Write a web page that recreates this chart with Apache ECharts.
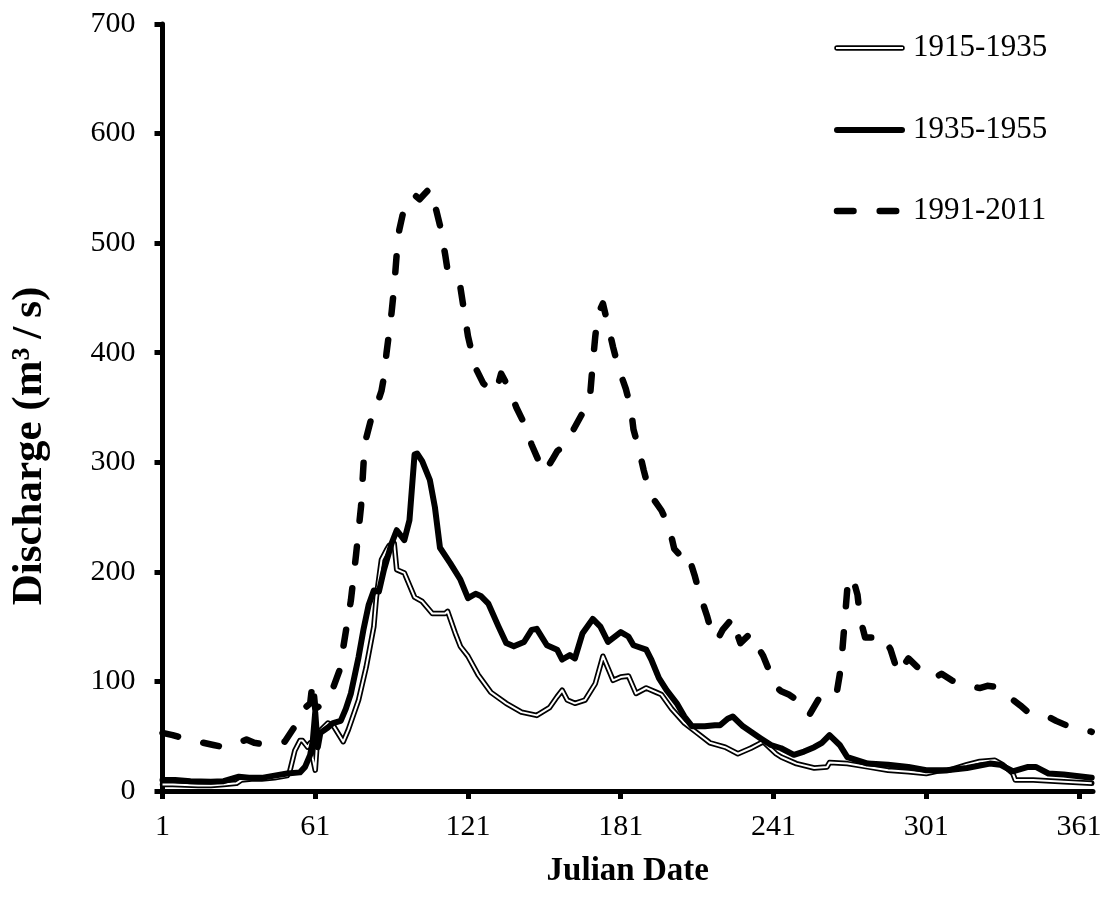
<!DOCTYPE html>
<html>
<head>
<meta charset="utf-8">
<script src="https://cdn.jsdelivr.net/npm/echarts@6/dist/echarts.min.js"></script>
<style>
  html, body { margin: 0; padding: 0; background: #fff; }
  #chart { width: 1110px; height: 898px; }
</style>
</head>
<body>
<div id="chart"></div>
<script>
// Mean daily discharge by Julian date for three 20-year periods (m³/s)
const days1915 = [1,5,10,15,20,25,30,32,36,40,45,50,51,53,55,56,58,59,60,61,62,66,68,72,74,78,81,84,85,87,89,90,92,93,96,100,103,107,112,113,116,118,121,125,130,136,142,148,153,156,158,160,163,167,171,174,178,181,184,187,191,195,197,201,206,211,216,222,227,232,237,242,244,250,257,262,263,270,278,286,294,301,305,310,317,322,328,331,335,336,343,355,366];
const flow1915 = [6,6,5.5,5,5,6,7,10,11,11,12,14,18,37,46,46,40,44,30,19,53,62,60,45,56,83,113,150,177,211,220,224,226,202,199,177,173,162,162,164,144,132,123,106,90,80,72,69,76,86,92,83,80,83,98,123,101,104,105,89,94,90,88,75,62,53,44,40,34,39,45,34,31,25,21,22,26,25,22,19,17.6,16,18,19,24,27,28,24,16,10,10,8.5,7];

const days1935 = [1,6,12,20,25,28,31,35,40,45,50,55,57,59,60,61,62,63,66,68,71,73,75,78,80,82,84,86,88,91,93,96,98,100,101,103,106,108,110,114,118,121,124,126,129,133,136,139,143,146,148,152,156,158,161,163,166,170,173,176,181,184,186,191,193,196,199,203,206,209,214,218,220,223,225,229,236,240,244,249,253,257,260,263,267,270,274,278,286,294,301,309,317,326,330,335,341,344,349,355,366];
const flow1935 = [10,10,9,8.5,9,11,13,12,12,14,16,17,22,33,45,72,40,53,58,62,64,75,89,122,148,170,183,182,202,226,238,229,247,307,308,301,284,259,222,208,193,176,180,178,171,150,135,132,136,147,148,133,129,120,124,121,144,157,150,136,145,141,133,129,120,103,92,80,68,59,59,60,60,66,68,59,48,42,39,33,36,40,44,51,42,31,28,25,24,22,19,19,21,25,24,18,22,22,16,15,12];

const days1991 = [1,5,8,12,17,21,25,29,32,34,37,40,44,49,51,53,55,57,59,60,61,63,65,68,71,72,75,77,79,80,81,83,86,87,88,89,90,91,92,93,94,96,98,100,102,104,106,108,110,112,113,116,118,120,121,122,124,127,130,132,134,137,140,144,146,149,151,154,156,159,162,166,169,170,171,172,174,176,178,180,183,185,186,188,190,192,194,197,200,202,204,207,210,212,215,217,219,221,225,226,228,232,234,237,240,242,244,247,249,252,255,259,262,264,266,267,268,270,272,274,275,277,280,284,287,290,294,298,301,304,307,311,315,322,325,329,334,338,341,348,352,356,363,366];
const flow1991 = [53,51,49,46,44,42,40,42,45,47,44,43,43,45,52,59,70,76,80,100,75,78,85,94,113,131,174,215,260,300,322,340,358,365,378,400,418,437,460,490,512,533,540,544,540,545,550,535,516,490,475,468,460,430,415,405,386,372,366,364,381,368,350,331,316,300,291,302,310,316,328,345,362,390,415,435,445,425,405,387,367,349,330,313,293,275,266,256,241,221,216,219,197,180,159,142,138,147,158,148,135,144,135,123,106,95,91,88,85,76,69,85,93,95,92,106,127,185,196,179,158,140,140,142,129,107,121,112,107,103,107,101,97,94,96,95,85,78,72,69,64,60,56,54];

const periods = ['1915-1935', '1935-1955', '1991-2011'];
const dayTicks = [1, 61, 121, 181, 241, 301, 361];

const pair = (xs, ys) => xs.map((d, i) => [d, ys[i]]);
const serif = '"Liberation Serif", "Times New Roman", serif';

const chart = echarts.init(document.getElementById('chart'), null, { renderer: 'canvas' });

const lineBase = {
  type: 'line',
  showSymbol: false,
  symbol: 'none',
  smooth: false,
  animation: false,
  silent: true
};

const legendText = (label, y) => ({
  type: 'text', x: 913, y: y, silent: true,
  style: {
    text: label, font: '31px ' + serif, fill: '#000',
    align: 'left', verticalAlign: 'middle', textAlign: 'left', textVerticalAlign: 'middle'
  }
});

chart.setOption({
  backgroundColor: '#fff',
  animation: false,
  grid: { left: 162.5, right: 17, top: 24, bottom: 107, containLabel: false },
  xAxis: {
    type: 'value',
    min: 1,
    max: 366.5,
    name: 'Julian Date',
    nameLocation: 'middle',
    nameGap: 64,
    nameTextStyle: { fontFamily: serif, fontSize: 33, fontWeight: 'bold', color: '#000' },
    axisLine: { show: true, lineStyle: { color: '#000', width: 5 } },
    axisTick: { show: true, inside: false, length: 8, customValues: dayTicks, lineStyle: { color: '#000', width: 5 } },
    axisLabel: { customValues: dayTicks, margin: 21, fontFamily: serif, fontSize: 30, color: '#000' },
    splitLine: { show: false }
  },
  yAxis: {
    type: 'value',
    min: 0,
    max: 700,
    interval: 100,
    axisLine: { show: true, lineStyle: { color: '#000', width: 5 } },
    axisTick: { show: true, inside: false, length: 8, lineStyle: { color: '#000', width: 5 } },
    axisLabel: { margin: 27, fontFamily: serif, fontSize: 30, color: '#000' },
    splitLine: { show: false }
  },
  series: [
    // 1915-1935: double line (black casing with a white core)
    Object.assign({}, lineBase, {
      name: periods[0],
      data: pair(days1915, flow1915),
      lineStyle: { color: '#000', width: 5.5, join: 'round', cap: 'round' }
    }),
    Object.assign({}, lineBase, {
      name: periods[0] + ' core',
      data: pair(days1915, flow1915),
      lineStyle: { color: '#fff', width: 2, join: 'round' }
    }),
    Object.assign({}, lineBase, {
      name: periods[1],
      data: pair(days1935, flow1935),
      lineStyle: { color: '#000', width: 6, join: 'round', cap: 'round' }
    }),
    Object.assign({}, lineBase, {
      name: periods[2],
      data: pair(days1991, flow1991),
      lineStyle: { color: '#000', width: 6.5, type: [16, 26], cap: 'round', join: 'round' }
    })
  ],
  graphic: [
    // y-axis title, read bottom to top
    {
      type: 'text', x: 30, y: 446, rotation: Math.PI / 2, silent: true,
      style: {
        text: '{a|Discharge (m³}{b|/}{a|s)}',
        fill: '#000',
        align: 'center', verticalAlign: 'middle', textAlign: 'center', textVerticalAlign: 'middle',
        rich: {
          a: { fontFamily: serif, fontSize: 43, fontWeight: 'bold', fill: '#000', color: '#000' },
          b: { fontFamily: serif, fontSize: 43, fontWeight: 'bold', fill: '#000', color: '#000', padding: [0, 9, 0, 9] }
        }
      }
    },
    // legend samples
    { type: 'line', silent: true, shape: { x1: 837, y1: 48, x2: 902, y2: 48 },
      style: { stroke: '#000', lineWidth: 5.5, lineCap: 'round' } },
    { type: 'line', silent: true, shape: { x1: 836, y1: 48, x2: 903, y2: 48 },
      style: { stroke: '#fff', lineWidth: 2 } },
    { type: 'line', silent: true, shape: { x1: 837, y1: 130, x2: 902, y2: 130 },
      style: { stroke: '#000', lineWidth: 6, lineCap: 'round' } },
    { type: 'line', silent: true, shape: { x1: 837, y1: 211, x2: 905, y2: 211 },
      style: { stroke: '#000', lineWidth: 6.5, lineCap: 'round', lineDash: [16.5, 26.2] } },
    legendText(periods[0], 48),
    legendText(periods[1], 130),
    legendText(periods[2], 211)
  ]
});
</script>
</body>
</html>
